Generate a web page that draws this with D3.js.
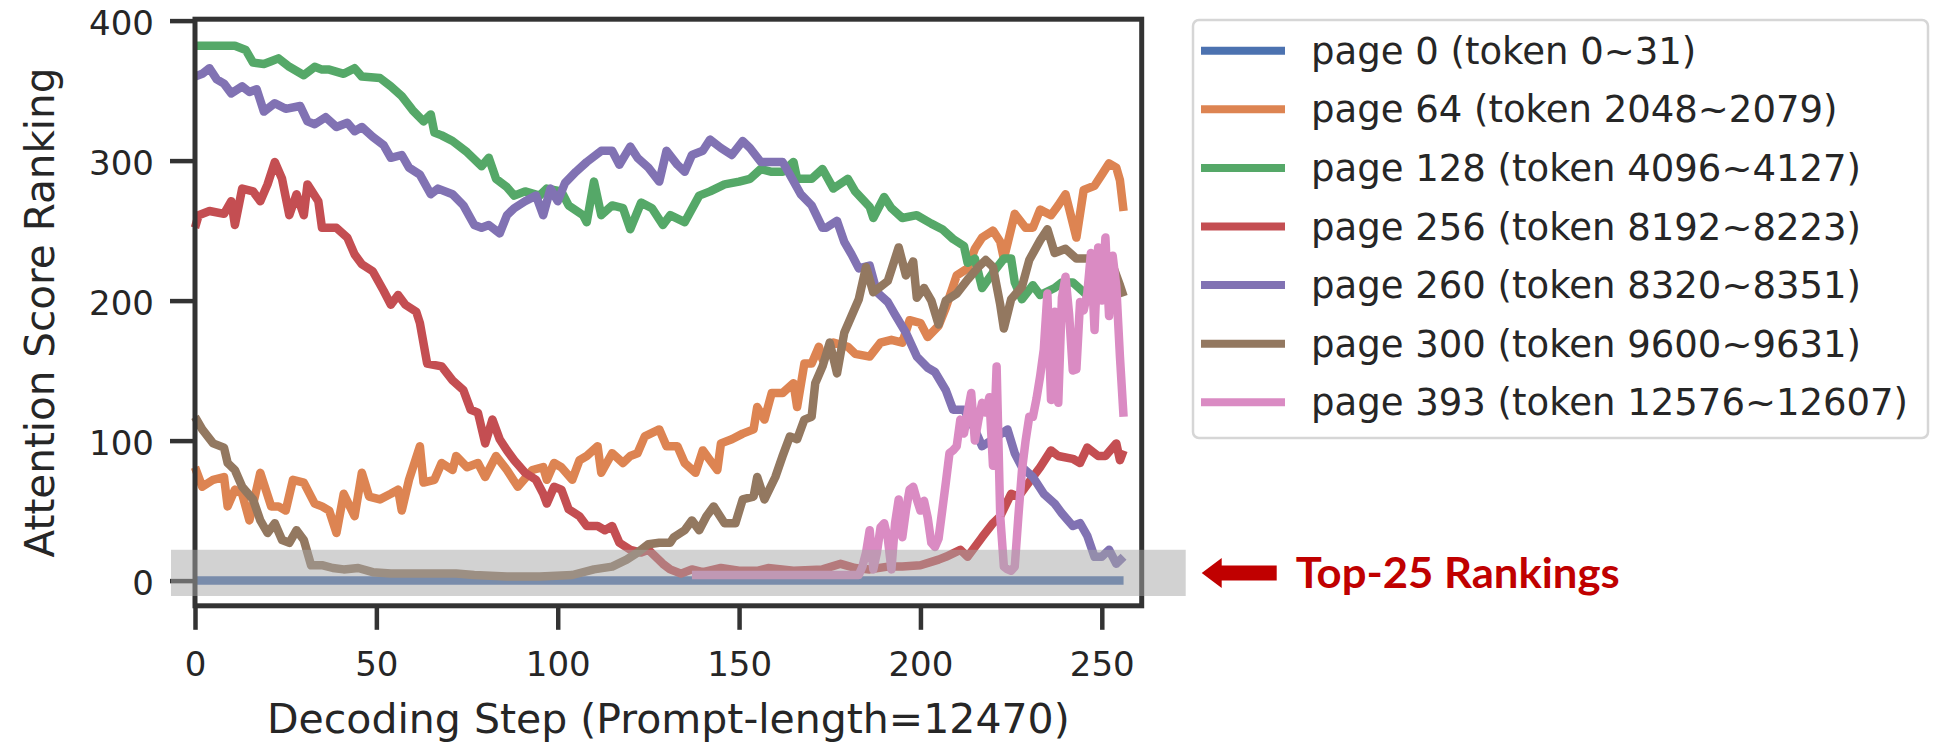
<!DOCTYPE html>
<html>
<head>
<meta charset="utf-8">
<script src="https://cdn.jsdelivr.net/npm/d3@7"></script>
<style>
  body { margin: 0; background: #fff; }
  svg { display: block; font-family: "DejaVu Sans", sans-serif; }
</style>
</head>
<body>
<div id="chart"></div>
<script>
// ---- data (decoding step, attention score ranking) ----
const legendLabels = [
  "page 0 (token 0~31)",
  "page 64 (token 2048~2079)",
  "page 128 (token 4096~4127)",
  "page 256 (token 8192~8223)",
  "page 260 (token 8320~8351)",
  "page 300 (token 9600~9631)",
  "page 393 (token 12576~12607)"
];

const page0 = [[0, 0], [256, 0]];

const page64 = [[0,81],[2,67],[5,72],[8,74],[9,53],[11,65],[13,62],[15,43],[18,77],[21,53],[23,53],[25,50],[27,72],[30,70],[33,55],[35,53],[37,50],[39,34],[41,62],[44,46],[46,77],[48,60],[51,58],[54,62],[56,65],[57,50],[59,72],[62,96],[63,70],[66,72],[68,84],[71,79],[72,89],[75,81],[78,84],[80,74],[83,89],[86,79],[89,67],[93,79],[96,81],[97,72],[99,84],[101,81],[104,72],[106,86],[108,89],[111,96],[112,77],[115,91],[118,84],[120,89],[122,91],[124,103],[128,108],[130,96],[133,96],[135,84],[138,77],[140,93],[142,86],[144,79],[145,98],[148,101],[151,105],[154,108],[155,124],[157,115],[159,134],[162,134],[165,141],[166,124],[168,155],[170,155],[172,167],[173,158],[176,170],[180,167],[182,162],[186,160],[189,170],[192,172],[195,170],[197,186],[200,184],[202,174],[205,182],[207,195],[210,218],[213,223],[215,237],[217,245],[220,250],[222,242],[223,230],[226,262],[229,252],[231,252],[233,265],[236,261],[238,268],[240,276],[243,245],[245,279],[248,282],[250,290],[252,298],[254,295],[255,286],[256,264]];

const page128 = [[0,382],[5,382],[11,382],[14,379],[16,370],[19,369],[21,371],[23,373],[26,367],[28,364],[30,361],[33,367],[35,365],[37,365],[41,362],[44,366],[46,360],[51,359],[54,353],[57,346],[60,336],[63,328],[65,333],[66,320],[68,318],[71,314],[75,306],[79,296],[81,302],[83,287],[86,281],[88,275],[91,278],[95,275],[97,280],[101,278],[103,268],[107,261],[108,256],[110,285],[112,261],[115,268],[118,266],[120,251],[123,270],[126,266],[129,254],[131,261],[135,256],[139,275],[142,278],[146,283],[150,285],[153,287],[156,294],[159,292],[162,292],[165,299],[166,287],[170,287],[173,294],[176,280],[180,287],[182,278],[186,267],[187,259],[190,274],[192,266],[195,259],[199,261],[203,255],[206,251],[209,244],[212,239],[213,227],[215,230],[217,209],[220,220],[223,230],[225,230],[226,213],[228,201],[231,211],[233,204],[237,209],[239,213],[242,213],[245,206],[248,199],[252,209],[256,209]];

const page256 = [[0,252],[1,261],[4,264],[8,262],[10,271],[11,254],[13,280],[16,278],[18,271],[20,283],[22,299],[24,287],[26,261],[28,276],[30,261],[31,283],[34,271],[35,252],[39,252],[42,245],[44,233],[46,226],[49,221],[52,207],[54,197],[56,204],[58,197],[61,192],[62,184],[64,155],[68,153],[71,143],[74,136],[76,122],[78,120],[80,98],[82,115],[84,101],[86,93],[88,86],[91,77],[94,72],[96,62],[97,55],[99,67],[101,65],[103,51],[106,46],[108,39],[111,39],[113,36],[115,39],[117,27],[120,22],[123,20],[125,22],[127,17],[129,12],[131,8],[134,5],[137,8],[140,6],[145,9],[150,7],[155,7],[158,9],[165,7],[173,8],[178,12],[182,9],[186,8],[191,10],[195,10],[200,11],[205,15],[207,17],[211,22],[213,17],[215,24],[217,31],[220,41],[222,46],[225,62],[227,60],[229,67],[231,74],[233,81],[236,93],[238,89],[242,87],[244,84],[246,95],[249,89],[251,89],[254,98],[255,86],[256,93]];

const page260 = [[0,360],[2,362],[4,366],[6,358],[8,355],[10,348],[13,353],[15,349],[17,351],[19,335],[22,341],[25,337],[29,339],[31,328],[33,326],[36,331],[39,324],[42,327],[44,321],[46,324],[49,317],[52,311],[54,302],[57,304],[59,295],[62,290],[65,276],[67,280],[71,276],[74,268],[77,254],[79,252],[81,254],[84,248],[86,261],[88,266],[91,271],[94,275],[96,261],[98,280],[100,271],[102,284],[105,292],[108,299],[112,307],[115,307],[117,297],[120,310],[122,302],[125,295],[128,285],[130,307],[133,297],[135,292],[137,304],[140,307],[142,315],[145,309],[148,304],[151,314],[153,309],[156,299],[159,299],[162,299],[164,290],[167,276],[170,268],[173,252],[174,252],[177,257],[179,242],[181,233],[183,223],[186,225],[188,206],[191,199],[193,190],[196,177],[199,160],[202,152],[204,149],[207,136],[209,122],[212,122],[215,108],[217,96],[220,101],[224,108],[226,91],[228,81],[231,74],[234,62],[237,55],[239,48],[242,39],[244,41],[246,32],[248,17],[250,17],[252,22],[254,12],[256,17]];

const page300 = [[0,117],[2,108],[5,98],[8,95],[9,84],[11,79],[13,67],[16,58],[18,43],[20,34],[22,41],[24,29],[26,27],[28,36],[30,29],[32,11],[35,11],[38,9],[41,8],[45,9],[49,6],[54,5],[63,5],[72,5],[77,4],[86,3],[95,3],[104,4],[110,8],[115,10],[119,15],[122,20],[125,26],[128,27],[131,27],[132,31],[135,36],[137,43],[139,36],[141,46],[143,53],[146,41],[149,41],[151,58],[154,60],[155,74],[157,58],[160,74],[162,89],[164,103],[166,101],[168,115],[170,117],[171,141],[173,153],[175,170],[177,148],[179,177],[181,189],[183,201],[185,224],[187,206],[189,210],[191,214],[194,238],[196,218],[198,228],[199,202],[201,209],[203,200],[205,183],[207,200],[210,205],[213,215],[216,224],[218,229],[220,224],[222,197],[223,180],[225,201],[228,210],[230,229],[233,243],[235,251],[237,234],[240,237],[243,230],[246,230],[249,228],[251,214],[253,225],[255,211],[256,203]];

const page393 = [[137,4],[150,4],[165,4],[176,4],[183,4],[184,10],[185,20],[186,36],[187,8],[188,20],[189,38],[190,41],[191,30],[192,8],[193,41],[194,58],[195,31],[196,50],[197,65],[198,67],[199,58],[200,50],[201,57],[202,45],[203,27],[204,24],[205,30],[206,50],[207,70],[208,91],[209,93],[210,96],[211,115],[212,105],[213,120],[214,134],[215,100],[216,115],[217,127],[218,120],[219,131],[220,82],[221,153],[222,46],[223,10],[224,8],[225,7],[226,10],[227,46],[228,79],[229,100],[230,117],[231,117],[232,130],[233,146],[234,165],[235,205],[236,129],[237,192],[238,127],[239,202],[240,217],[241,190],[242,150],[243,151],[244,199],[245,193],[246,205],[247,234],[248,179],[249,238],[250,200],[251,245],[252,189],[253,232],[254,210],[255,160],[256,117]];

const seriesData = [page0, page64, page128, page256, page260, page300, page393];

const xTicks = [0, 50, 100, 150, 200, 250];
const yTicks = [0, 100, 200, 300, 400];
const xDomain = [0, 261];
const yDomain = [-18, 401];
const top25Band = [-11, 22];
const xLabel = "Decoding Step (Prompt-length=12470)";
const yLabel = "Attention Score Ranking";
const annotationText = "Top-25 Rankings";

// seaborn "deep" palette
const palette = ["#4c72b0", "#dd8452", "#55a868", "#c44e52", "#8172b3", "#937860", "#da8bc3"];

// ---- layout ----
const W = 1945, H = 751;
const plot = { left: 195, right: 1141.7, top: 19.2, bottom: 605.8 };
const ink = "#262626";

const svg = d3.select("#chart").append("svg")
  .attr("width", W)
  .attr("height", H);

const x = d3.scaleLinear().domain(xDomain).range([plot.left, plot.right]);
const y = d3.scaleLinear().domain(yDomain).range([plot.bottom, plot.top]);

// lines
const line = d3.line()
  .x(d => x(d[0]))
  .y(d => y(d[1]));

svg.append("g")
  .selectAll("path")
  .data(seriesData)
  .join("path")
  .attr("d", line)
  .attr("fill", "none")
  .attr("stroke", (d, i) => palette[i])
  .attr("stroke-width", 8.5)
  .attr("stroke-linejoin", "round");

// axes
const xAxis = d3.axisBottom(x).tickValues(xTicks).tickSize(24).tickPadding(22).tickFormat(d3.format("d"));
const yAxis = d3.axisLeft(y).tickValues(yTicks).tickSize(25).tickPadding(16).tickFormat(d3.format("d"));

const gx = svg.append("g")
  .attr("transform", `translate(0,${plot.bottom})`)
  .call(xAxis);
const gy = svg.append("g")
  .attr("transform", `translate(${plot.left},0)`)
  .call(yAxis);

[gx, gy].forEach(g => {
  g.select(".domain").remove();
  g.selectAll(".tick line").attr("stroke", "#333").attr("stroke-width", 4.5);
  g.selectAll(".tick text")
    .attr("fill", ink)
    .style("font-size", "34px")
    .style("font-family", "DejaVu Sans");
});
gy.selectAll(".tick text").attr("dy", "0.42em");

// frame (spines)
svg.append("rect")
  .attr("x", plot.left)
  .attr("y", plot.top)
  .attr("width", plot.right - plot.left)
  .attr("height", plot.bottom - plot.top)
  .attr("fill", "none")
  .attr("stroke", "#333")
  .attr("stroke-width", 5);

// axis labels
svg.append("text")
  .attr("x", (plot.left + plot.right) / 2)
  .attr("y", 733)
  .attr("text-anchor", "middle")
  .attr("fill", ink)
  .style("font-size", "41px")
  .text(xLabel);

svg.append("text")
  .attr("transform", `translate(54,${(plot.top + plot.bottom) / 2}) rotate(-90)`)
  .attr("text-anchor", "middle")
  .attr("fill", ink)
  .style("font-size", "40.5px")
  .text(yLabel);

// legend
const legend = svg.append("g");
legend.append("rect")
  .attr("x", 1193)
  .attr("y", 20)
  .attr("width", 735)
  .attr("height", 418)
  .attr("rx", 6)
  .attr("fill", "#fff")
  .attr("stroke", "#d6d6d6")
  .attr("stroke-width", 2.5);

const rowY = i => 50.7 + i * 58.6;
const rows = legend.selectAll("g.row")
  .data(legendLabels)
  .join("g")
  .attr("class", "row")
  .attr("transform", (d, i) => `translate(0,${rowY(i)})`);
rows.append("line")
  .attr("x1", 1201).attr("x2", 1285)
  .attr("y1", 0).attr("y2", 0)
  .attr("stroke", (d, i) => palette[i])
  .attr("stroke-width", 8);
rows.append("text")
  .attr("x", 1311)
  .attr("y", 13)
  .attr("fill", ink)
  .style("font-size", "37px")
  .text(d => d);

// top-25 band, drawn over everything as a translucent overlay
svg.append("rect")
  .attr("x", plot.left - 24)
  .attr("width", (plot.right + 44) - (plot.left - 24))
  .attr("y", y(top25Band[1]))
  .attr("height", y(top25Band[0]) - y(top25Band[1]))
  .attr("fill", "#a6a6a6")
  .attr("opacity", 0.5);

// arrow + annotation
const cy = y((top25Band[0] + top25Band[1]) / 2);
const ax0 = plot.right + 60, ax1 = ax0 + 75;
svg.append("path")
  .attr("d", `M${ax0},${cy} L${ax0 + 20},${cy - 15} L${ax0 + 20},${cy - 7.5} L${ax1},${cy - 7.5} L${ax1},${cy + 7.5} L${ax0 + 20},${cy + 7.5} L${ax0 + 20},${cy + 15} Z`)
  .attr("fill", "#c00000");

svg.append("text")
  .attr("x", ax1 + 19)
  .attr("y", cy + 15)
  .attr("fill", "#c00000")
  .attr("font-weight", "bold")
  .attr("textLength", 324)
  .attr("lengthAdjust", "spacingAndGlyphs")
  .style("font-family", "Lato, 'Open Sans', sans-serif")
  .style("font-size", "42px")
  .text(annotationText);
</script>
</body>
</html>
